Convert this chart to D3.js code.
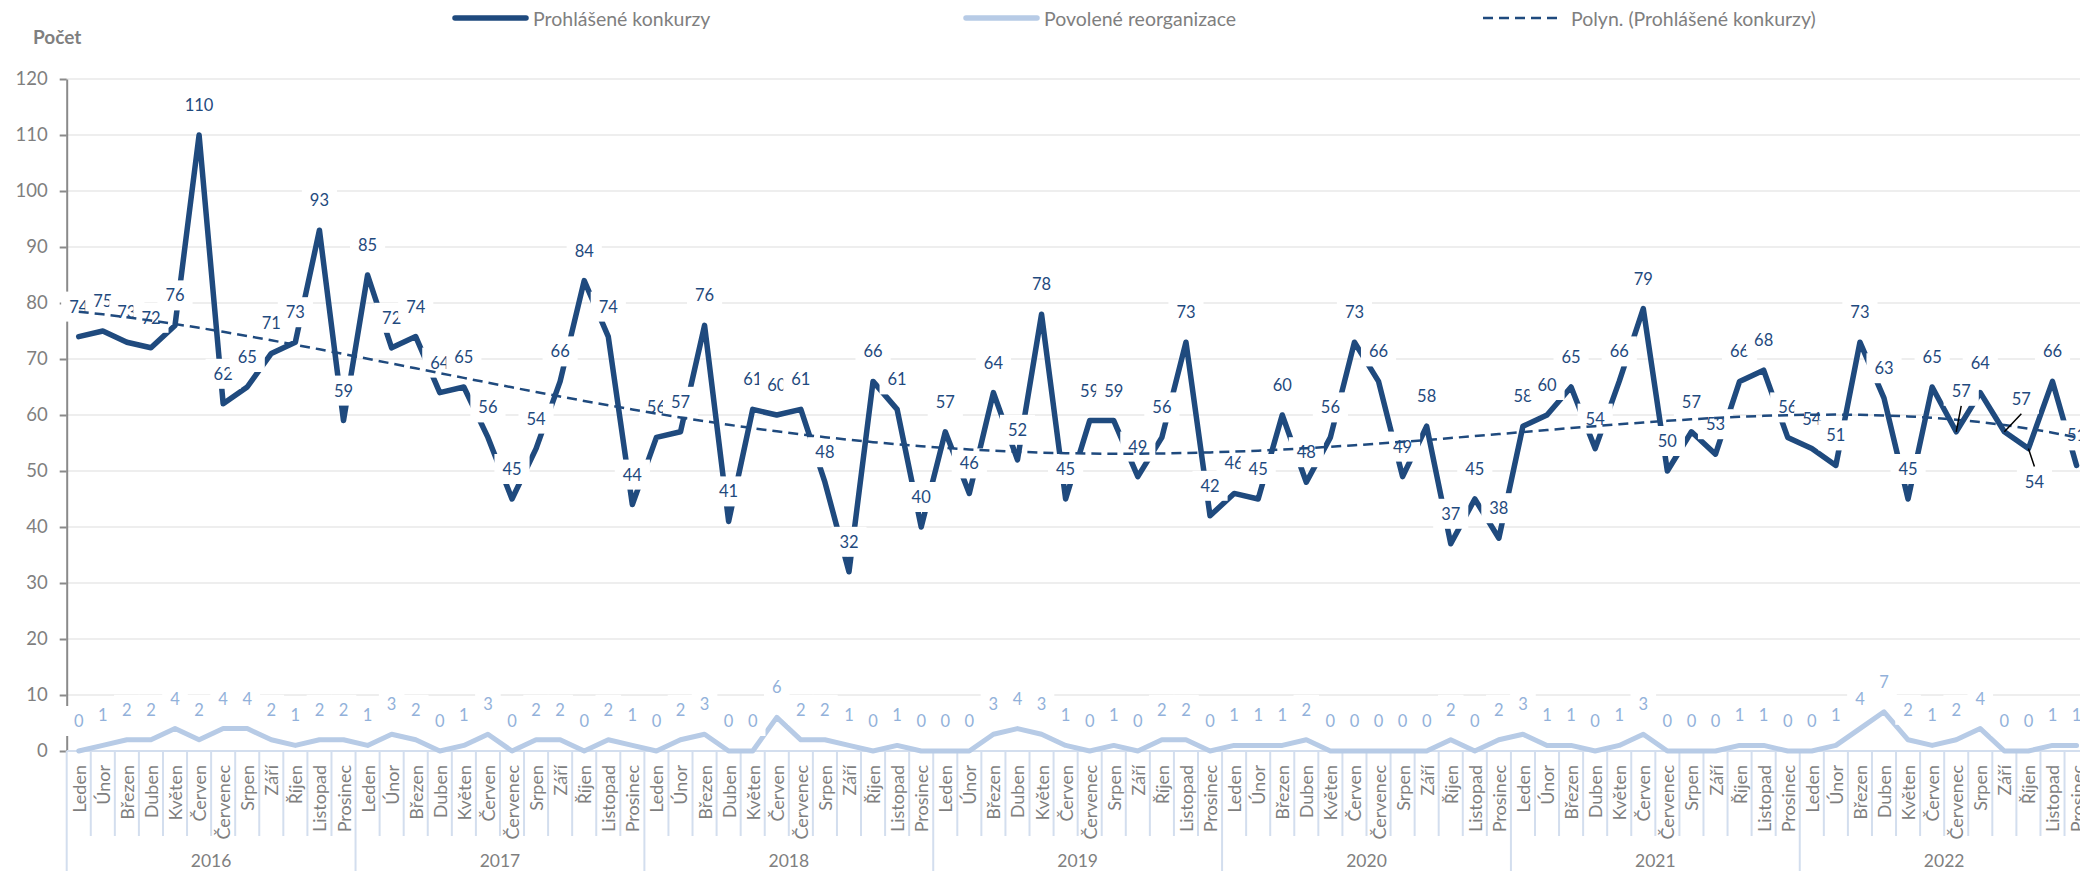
<!DOCTYPE html>
<html>
<head>
<meta charset="utf-8">
<script src="https://cdn.jsdelivr.net/npm/d3@7"></script>
<style>
  html, body { margin: 0; padding: 0; background: #fff; }
  svg { display: block; font-family: Lato, "Open Sans", sans-serif; }
</style>
</head>
<body>
<div id="chart"></div>
<script>
const months = ["Leden", "Únor", "Březen", "Duben", "Květen", "Červen", "Červenec", "Srpen", "Září", "Říjen", "Listopad", "Prosinec"];
const years = ["2016", "2017", "2018", "2019", "2020", "2021", "2022"];

// Prohlášené konkurzy, monthly 2016-2022
const konkurzy = [
  74, 75, 73, 72, 76, 110, 62, 65, 71, 73, 93, 59,
  85, 72, 74, 64, 65, 56, 45, 54, 66, 84, 74, 44,
  56, 57, 76, 41, 61, 60, 61, 48, 32, 66, 61, 40,
  57, 46, 64, 52, 78, 45, 59, 59, 49, 56, 73, 42,
  46, 45, 60, 48, 56, 73, 66, 49, 58, 37, 45, 38,
  58, 60, 65, 54, 66, 79, 50, 57, 53, 66, 68, 56,
  54, 51, 73, 63, 45, 65, 57, 64, 57, 54, 66, 51
];

// Povolené reorganizace, monthly 2016-2022
const reorganizace = [
  0, 1, 2, 2, 4, 2, 4, 4, 2, 1, 2, 2,
  1, 3, 2, 0, 1, 3, 0, 2, 2, 0, 2, 1,
  0, 2, 3, 0, 0, 6, 2, 2, 1, 0, 1, 0,
  0, 0, 3, 4, 3, 1, 0, 1, 0, 2, 2, 0,
  1, 1, 1, 2, 0, 0, 0, 0, 0, 2, 0, 2,
  3, 1, 1, 0, 1, 3, 0, 0, 0, 1, 1, 0,
  0, 1, 4, 7, 2, 1, 2, 4, 0, 0, 1, 1
];

const yTicks = [0, 10, 20, 30, 40, 50, 60, 70, 80, 90, 100, 110, 120];
const legendLabels = ["Prohlášené konkurzy", "Povolené reorganizace", "Polyn. (Prohlášené konkurzy)"];
const trendOrder = 4;

// labels that were dragged by hand in the original (index -> [dx, dy])
const movedLabels = { 78: [5, -41], 80: [17, -33], 81: [6, 33] };

const width = 2080;
const height = 871;
const darkBlue = "#1f4a7e";
const lightBlue = "#b7cbe6";
const lightLabel = "#92b1da";
const gray = "#7f7f7f";

const svg = d3.select("#chart")
  .append("svg")
  .attr("width", width)
  .attr("height", height)
  .attr("viewBox", `0 0 ${width} ${height}`);

const x = d3.scaleBand()
  .domain(d3.range(konkurzy.length))
  .range([66.7, 2088.6]);
const cx = (i) => x(i) + x.bandwidth() / 2;

const y = d3.scaleLinear().domain([0, 120]).range([751, 79]);

// least squares polynomial (what Excel does for "Polyn." trendlines)
function polyFit(ys, order) {
  const n = ys.length;
  const h = (n - 1) / 2;
  const xs = ys.map((_, i) => (i - h) / h);
  const m = order + 1;
  const A = d3.range(m).map((r) => {
    const row = d3.range(m).map((c) => d3.sum(xs, (v) => Math.pow(v, r + c)));
    row.push(d3.sum(xs, (v, i) => ys[i] * Math.pow(v, r)));
    return row;
  });
  for (let col = 0; col < m; col++) {
    let piv = col;
    for (let r = col + 1; r < m; r++) if (Math.abs(A[r][col]) > Math.abs(A[piv][col])) piv = r;
    [A[col], A[piv]] = [A[piv], A[col]];
    for (let r = 0; r < m; r++) {
      if (r === col) continue;
      const f = A[r][col] / A[col][col];
      for (let k = col; k <= m; k++) A[r][k] -= f * A[col][k];
    }
  }
  const coef = A.map((row, i) => row[m] / row[i]);
  return xs.map((v) => coef.reduce((s, c, k) => s + c * Math.pow(v, k), 0));
}
const trend = polyFit(konkurzy, trendOrder);

// gridlines
svg.append("g")
  .selectAll("line")
  .data(yTicks.filter((d) => d > 0))
  .join("line")
  .attr("x1", 67)
  .attr("x2", width)
  .attr("y1", (d) => y(d))
  .attr("y2", (d) => y(d))
  .attr("stroke", "#eeeeee")
  .attr("stroke-width", 2);

// y axis
const yAxis = svg.append("g")
  .attr("transform", "translate(66.7,0)")
  .call(d3.axisLeft(y).tickValues(yTicks).tickSize(7).tickSizeOuter(0).tickPadding(12));
yAxis.select(".domain").attr("stroke", "#8a8a8a").attr("stroke-width", 2);
yAxis.selectAll(".tick line").attr("stroke", "#8a8a8a").attr("stroke-width", 2);
yAxis.selectAll(".tick text")
  .attr("fill", gray)
  .style("font-size", "18.5px")
  .style("font-family", "Lato, sans-serif");

// category axis: base line, separators, month and year labels
const xEdges = d3.range(konkurzy.length + 1).map((i) => (i < konkurzy.length ? x(i) : x.range()[1]));
const axisG = svg.append("g");
axisG.selectAll("line.sep")
  .data(xEdges)
  .join("line")
  .attr("class", "sep")
  .attr("x1", (d) => d)
  .attr("x2", (d) => d)
  .attr("y1", 751)
  .attr("y2", 836)
  .attr("stroke", "#d3deee")
  .attr("stroke-width", 2);
axisG.selectAll("line.year-sep")
  .data(xEdges.filter((_, i) => i % 12 === 0))
  .join("line")
  .attr("class", "year-sep")
  .attr("x1", (d) => d)
  .attr("x2", (d) => d)
  .attr("y1", 836)
  .attr("y2", height)
  .attr("stroke", "#d3deee")
  .attr("stroke-width", 2);
axisG.append("line")
  .attr("x1", 66.7)
  .attr("x2", width)
  .attr("y1", y(0))
  .attr("y2", y(0))
  .attr("stroke", "#d3deee")
  .attr("stroke-width", 2);

axisG.selectAll("text.month")
  .data(konkurzy.map((_, i) => months[i % 12]))
  .join("text")
  .attr("class", "month")
  .attr("transform", (_, i) => `translate(${cx(i)},765) rotate(-90)`)
  .attr("text-anchor", "end")
  .attr("dominant-baseline", "central")
  .attr("fill", gray)
  .style("font-size", "18px")
  .text((d) => d);

axisG.selectAll("text.year")
  .data(years)
  .join("text")
  .attr("class", "year")
  .attr("x", (_, i) => (xEdges[i * 12] + xEdges[i * 12 + 12]) / 2)
  .attr("y", 860)
  .attr("text-anchor", "middle")
  .attr("dominant-baseline", "central")
  .attr("fill", gray)
  .style("font-size", "17.5px")
  .text((d) => d);

// series lines
const line = d3.line().x((_, i) => cx(i)).y((d) => y(d));

svg.append("path")
  .datum(reorganizace)
  .attr("d", line)
  .attr("fill", "none")
  .attr("stroke", lightBlue)
  .attr("stroke-width", 5)
  .attr("stroke-linejoin", "round")
  .attr("stroke-linecap", "round");

svg.append("path")
  .datum(konkurzy)
  .attr("d", line)
  .attr("fill", "none")
  .attr("stroke", darkBlue)
  .attr("stroke-width", 5.5)
  .attr("stroke-linejoin", "round")
  .attr("stroke-linecap", "round");

// data labels with white boxes, drawn one after another like Excel does
function drawLabels(values, color, moved) {
  const g = svg.append("g");
  values.forEach((v, i) => {
    const off = moved[i] || [0, -30];
    const lx = cx(i) + off[0];
    const ly = y(v) + off[1];
    const lg = g.append("g");
    const box = lg.append("rect").attr("fill", "#fff");
    const t = lg.append("text")
      .attr("x", lx)
      .attr("y", ly)
      .attr("text-anchor", "middle")
      .attr("dominant-baseline", "central")
      .attr("fill", color)
      .style("font-size", "16.5px")
      .text(v);
    const w = t.node().getComputedTextLength() + 16;
    box.attr("x", lx - w / 2).attr("y", ly - 15).attr("width", w).attr("height", 30);
  });
}
drawLabels(konkurzy, darkBlue, movedLabels);
drawLabels(reorganizace, lightLabel, {});

// trendline
svg.append("path")
  .datum(trend)
  .attr("d", line)
  .attr("fill", "none")
  .attr("stroke", darkBlue)
  .attr("stroke-width", 2.5)
  .attr("stroke-dasharray", "10,6");

// leader lines for the moved labels
svg.append("g")
  .selectAll("line")
  .data(Object.keys(movedLabels).map(Number))
  .join("line")
  .attr("x1", (i) => cx(i) + movedLabels[i][0])
  .attr("y1", (i) => y(konkurzy[i]) + movedLabels[i][1] + (movedLabels[i][1] < 0 ? 15 : -15))
  .attr("x2", (i) => cx(i))
  .attr("y2", (i) => y(konkurzy[i]))
  .attr("stroke", "#000")
  .attr("stroke-width", 1.5);

// axis title
svg.append("text")
  .attr("x", 33)
  .attr("y", 36)
  .attr("dominant-baseline", "central")
  .attr("fill", gray)
  .style("font-size", "19px")
  .style("font-weight", "bold")
  .text("Počet");

// legend
const legendPos = [
  { x1: 455, x2: 526, color: darkBlue, w: 5.5, dash: null },
  { x1: 966, x2: 1037, color: lightBlue, w: 5.5, dash: null },
  { x1: 1483, x2: 1561, color: darkBlue, w: 2.5, dash: "10,6" }
];
const legend = svg.append("g");
legendLabels.forEach((label, i) => {
  const p = legendPos[i];
  legend.append("line")
    .attr("x1", p.x1)
    .attr("x2", p.x2)
    .attr("y1", 18)
    .attr("y2", 18)
    .attr("stroke", p.color)
    .attr("stroke-width", p.w)
    .attr("stroke-linecap", p.dash ? "butt" : "round")
    .attr("stroke-dasharray", p.dash);
  legend.append("text")
    .attr("x", p.x2 + (p.dash ? 10 : 7))
    .attr("y", 18)
    .attr("dominant-baseline", "central")
    .attr("fill", gray)
    .style("font-size", "19.5px")
    .text(label);
});
</script>
</body>
</html>
